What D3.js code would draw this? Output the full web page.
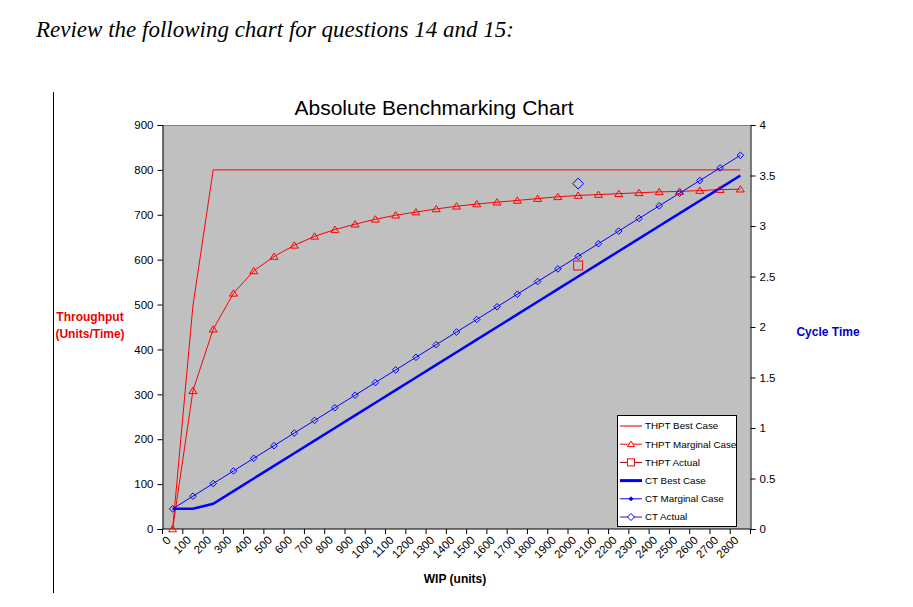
<!DOCTYPE html>
<html>
<head>
<meta charset="utf-8">
<script src="https://cdn.jsdelivr.net/npm/d3@7.9.0/dist/d3.min.js"></script>
<style>
  body { margin: 0; background: #fff; }
  svg { display: block; font-family: "Liberation Sans", Arial, sans-serif; }
</style>
</head>
<body>
<svg id="chart" width="913" height="607"></svg>
<script>
// WIP categories (x axis)
const wipLabels = ["0","100","200","300","400","500","600","700","800","900","1000","1100","1200","1300",
  "1400","1500","1600","1700","1800","1900","2000","2100","2200","2300","2400","2500","2600","2700","2800"];

// throughput series (left axis)
const thptBest = [0, 497, 800, 800, 800, 800, 800, 800, 800, 800, 800, 800, 800, 800, 800,
  800, 800, 800, 800, 800, 800, 800, 800, 800, 800, 800, 800, 800, 800];
const thptMarginal = [0, 308, 445, 525, 575, 607, 632, 652, 667, 679, 690, 699, 706, 713, 719,
  724, 728, 732, 736, 740, 743, 745, 747, 749, 751, 752, 754, 756, 757];
const thptActual = [{ wip: "2000", value: 587 }];

// cycle time series (right axis)
const ctBest = [0.2, 0.2, 0.25, 0.375, 0.5, 0.625, 0.75, 0.875, 1, 1.125, 1.25, 1.375, 1.5, 1.625, 1.75,
  1.875, 2, 2.125, 2.25, 2.375, 2.5, 2.625, 2.75, 2.875, 3, 3.125, 3.25, 3.375, 3.5];
const ctMarginal = [0.2, 0.325, 0.45, 0.575, 0.7, 0.825, 0.95, 1.075, 1.2, 1.325, 1.45, 1.575, 1.7, 1.825, 1.95,
  2.075, 2.2, 2.325, 2.45, 2.575, 2.7, 2.825, 2.95, 3.075, 3.2, 3.325, 3.45, 3.575, 3.7];
const ctActual = [{ wip: "2000", value: 3.42 }];

const leftTicks = [0, 100, 200, 300, 400, 500, 600, 700, 800, 900];
const rightTicks = [0, 0.5, 1, 1.5, 2, 2.5, 3, 3.5, 4];

const RED = "#ff0000", BLUE = "#0000ff";

const svg = d3.select("#chart");

// page header + left rule
svg.append("text")
  .attr("x", 36).attr("y", 37)
  .style("font-family", "'Liberation Serif', 'Times New Roman', serif")
  .style("font-style", "italic")
  .style("font-size", "23px")
  .text("Review the following chart for questions 14 and 15:");

svg.append("line")
  .attr("x1", 53.5).attr("x2", 53.5).attr("y1", 92).attr("y2", 593)
  .attr("stroke", "#000");

const plotLeft = 162.5, plotRight = 750.5, plotTop = 125, plotBottom = 529;

const x = d3.scaleBand().domain(wipLabels).range([plotLeft, plotRight]).padding(0);
const cx = (d) => x(d) + x.bandwidth() / 2;
const yL = d3.scaleLinear().domain([0, 900]).range([plotBottom, plotTop]);
const yR = d3.scaleLinear().domain([0, 4]).range([plotBottom, plotTop]);

// marker shapes (Excel style: even diamonds, small triangles)
const diamond = (r) => `M0,${-r}L${r},0L0,${r}L${-r},0Z`;
const triangle = (r) => `M0,${-r}L${r + 0.5},${r * 0.8}L${-r - 0.5},${r * 0.8}Z`;

// plot area
svg.append("rect")
  .attr("x", plotLeft).attr("y", plotTop)
  .attr("width", plotRight - plotLeft).attr("height", plotBottom - plotTop)
  .attr("fill", "#c0c0c0");
svg.append("line")
  .attr("x1", plotLeft).attr("x2", plotRight).attr("y1", plotTop + 0.5).attr("y2", plotTop + 0.5)
  .attr("stroke", "#808080");

// axes
const gLeft = svg.append("g").attr("transform", `translate(${plotLeft},0)`)
  .call(d3.axisLeft(yL).tickValues(leftTicks).tickSize(5).tickPadding(4));
const gRight = svg.append("g").attr("transform", `translate(${plotRight},0)`)
  .call(d3.axisRight(yR).tickValues(rightTicks).tickFormat(d3.format("")).tickSize(5).tickPadding(4));
[gLeft, gRight].forEach(g => {
  g.attr("font-size", null).attr("font-family", null);
  g.select(".domain").attr("stroke", "#000");
  g.selectAll(".tick line").attr("stroke", "#000");
  g.selectAll(".tick text").style("font-size", "11.5px").attr("fill", "#000");
});

// x axis: ticks on category boundaries, labels rotated at centres
const gx = svg.append("g");
gx.append("line")
  .attr("x1", plotLeft).attr("x2", plotRight).attr("y1", plotBottom).attr("y2", plotBottom)
  .attr("stroke", "#000");
gx.selectAll("line.tk")
  .data(wipLabels.concat(["end"]))
  .enter().append("line")
  .attr("class", "tk")
  .attr("x1", (d, i) => i < wipLabels.length ? x(d) : plotRight)
  .attr("x2", (d, i) => i < wipLabels.length ? x(d) : plotRight)
  .attr("y1", plotBottom).attr("y2", plotBottom + 5)
  .attr("stroke", "#000");
gx.selectAll("text")
  .data(wipLabels)
  .enter().append("text")
  .attr("transform", d => `translate(${cx(d) - 4},${plotBottom + 9}) rotate(-45)`)
  .attr("text-anchor", "end")
  .attr("dy", "0.35em")
  .style("font-size", "11.5px")
  .text(d => d);

// series
const lineL = (vals) => d3.line().x((d, i) => cx(wipLabels[i])).y(d => yL(d))(vals);
const lineR = (vals) => d3.line().x((d, i) => cx(wipLabels[i])).y(d => yR(d))(vals);

svg.append("path").attr("d", lineL(thptBest))
  .attr("fill", "none").attr("stroke", RED).attr("stroke-width", 1);
svg.append("path").attr("d", lineL(thptMarginal))
  .attr("fill", "none").attr("stroke", RED).attr("stroke-width", 1);
svg.append("path").attr("d", lineR(ctBest))
  .attr("fill", "none").attr("stroke", BLUE).attr("stroke-width", 2.5);
svg.append("path").attr("d", lineR(ctMarginal))
  .attr("fill", "none").attr("stroke", BLUE).attr("stroke-width", 1);

svg.append("g").selectAll("path")
  .data(thptMarginal)
  .enter().append("path")
  .attr("d", triangle(3.5))
  .attr("transform", (d, i) => `translate(${cx(wipLabels[i])},${yL(d)})`)
  .attr("fill", "none").attr("stroke", RED).attr("stroke-width", 1);

svg.append("g").selectAll("path")
  .data(ctMarginal)
  .enter().append("path")
  .attr("d", diamond(3.3))
  .attr("transform", (d, i) => `translate(${cx(wipLabels[i])},${yR(d)})`)
  .attr("fill", "none").attr("stroke", BLUE).attr("stroke-width", 1);

// actual points
svg.selectAll("rect.thptActual")
  .data(thptActual)
  .enter().append("rect")
  .attr("class", "thptActual")
  .attr("x", d => cx(d.wip) - 4.5).attr("y", d => yL(d.value) - 4.5)
  .attr("width", 9).attr("height", 9)
  .attr("fill", "none").attr("stroke", RED).attr("stroke-width", 1);

svg.selectAll("path.ctActual")
  .data(ctActual)
  .enter().append("path")
  .attr("class", "ctActual")
  .attr("d", diamond(5.5))
  .attr("transform", d => `translate(${cx(d.wip)},${yR(d.value)})`)
  .attr("fill", "none").attr("stroke", BLUE).attr("stroke-width", 1);

// titles
svg.append("text")
  .attr("x", 434).attr("y", 115)
  .attr("text-anchor", "middle")
  .style("font-size", "21px")
  .text("Absolute Benchmarking Chart");

const thLabel = svg.append("text")
  .attr("text-anchor", "middle")
  .attr("fill", "#ee0000")
  .style("font-size", "12px").style("font-weight", "bold");
thLabel.append("tspan").attr("x", 90).attr("y", 321).text("Throughput");
thLabel.append("tspan").attr("x", 90).attr("y", 338).text("(Units/Time)");

svg.append("text")
  .attr("x", 828).attr("y", 336)
  .attr("text-anchor", "middle")
  .attr("fill", "#0000cc")
  .style("font-size", "12px").style("font-weight", "bold")
  .text("Cycle Time");

svg.append("text")
  .attr("x", 455).attr("y", 583)
  .attr("text-anchor", "middle")
  .style("font-size", "12px").style("font-weight", "bold")
  .text("WIP (units)");

// legend
const legendItems = [
  { label: "THPT Best Case", color: "#cc0000", width: 1, marker: null },
  { label: "THPT Marginal Case", color: RED, width: 1, marker: "tri" },
  { label: "THPT Actual", color: "#990000", width: 1, marker: "sq" },
  { label: "CT Best Case", color: BLUE, width: 3, marker: null },
  { label: "CT Marginal Case", color: BLUE, width: 1, marker: "dot" },
  { label: "CT Actual", color: "#660099", width: 1, marker: "dia" }
];

const lg = svg.append("g");
lg.append("rect")
  .attr("x", 617.5).attr("y", 415.5).attr("width", 119).attr("height", 111)
  .attr("fill", "#fff").attr("stroke", "#000");

const rowY = d3.scaleLinear().domain([0, 5]).range([426, 517]);
const row = lg.selectAll("g.row")
  .data(legendItems)
  .enter().append("g")
  .attr("class", "row")
  .attr("transform", (d, i) => `translate(0,${rowY(i)})`);

row.append("line")
  .attr("x1", 620).attr("x2", 642).attr("y1", 0).attr("y2", 0)
  .attr("stroke", d => d.color).attr("stroke-width", d => d.width);

row.filter(d => d.marker === "tri").append("path")
  .attr("d", triangle(3)).attr("transform", "translate(631,0)")
  .attr("fill", "#fff").attr("stroke", RED);
row.filter(d => d.marker === "sq").append("rect")
  .attr("x", 627.5).attr("y", -3.5).attr("width", 7).attr("height", 7)
  .attr("fill", "#fff").attr("stroke", RED);
row.filter(d => d.marker === "dot").append("path")
  .attr("d", diamond(2)).attr("transform", "translate(631,0)")
  .attr("fill", BLUE).attr("stroke", BLUE);
row.filter(d => d.marker === "dia").append("path")
  .attr("d", diamond(3.5)).attr("transform", "translate(631,0)")
  .attr("fill", "#fff").attr("stroke", BLUE);

row.append("text")
  .attr("x", 645).attr("y", 0).attr("dy", "0.35em")
  .style("font-size", "9.8px")
  .text(d => d.label);
</script>
</body>
</html>
